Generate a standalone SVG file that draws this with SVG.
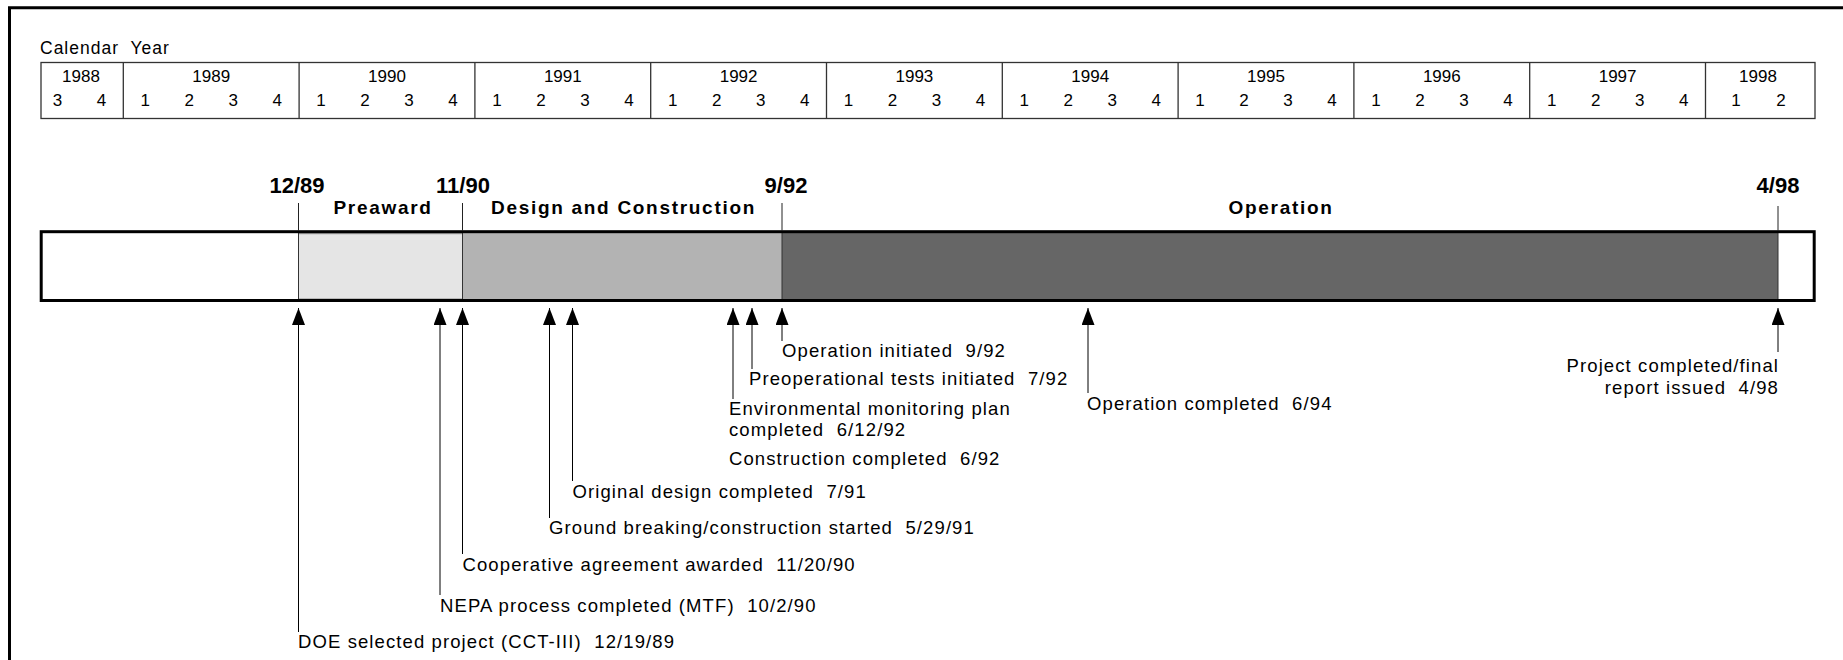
<svg xmlns="http://www.w3.org/2000/svg" width="1843" height="660" viewBox="0 0 1843 660">
  <style>
    text { font-family: 'Liberation Sans', Arial, Helvetica, sans-serif; fill: #000; }
    .cy { font-size: 17.5px; letter-spacing: 1px; }
    .yr { font-size: 17px; text-anchor: middle; }
    .lbl { font-size: 18.5px; letter-spacing: 1.1px; }
    .dt { font-size: 22px; font-weight: bold; text-anchor: middle; }
    .hd { font-size: 19px; font-weight: bold; letter-spacing: 1.7px; text-anchor: middle; }
    .grid { fill: none; stroke: #333; stroke-width: 1.3; }
    .tick { stroke: #222; stroke-width: 1; }
    .conn { stroke: #000; stroke-width: 1; fill: none; marker-start: url(#head); }
  </style>
  <defs>
    <marker id="head" viewBox="0 0 17 13" refX="17" refY="6.5" markerWidth="17" markerHeight="13" markerUnits="userSpaceOnUse" orient="auto-start-reverse">
      <path d="M0,0 L17,6.5 L0,13 z" fill="#000"/>
    </marker>
  </defs>

  <rect width="1843" height="660" fill="#fff"/>
  <!-- page frame (open at right and bottom) -->
  <path d="M9.5,660 V7.7 H1843" fill="none" stroke="#000" stroke-width="3"/>

  <!-- calendar scale -->
  <g id="calendar">
    <text class="cy" x="40" y="54" xml:space="preserve">Calendar  Year</text>
    <rect class="grid" x="41" y="62.5" width="1774" height="56"/>
    <path class="grid" d="M123.3,62.5 V118.5 M299.1,62.5 V118.5 M474.9,62.5 V118.5 M650.7,62.5 V118.5 M826.5,62.5 V118.5 M1002.3,62.5 V118.5 M1178.1,62.5 V118.5 M1353.9,62.5 V118.5 M1529.7,62.5 V118.5 M1705.5,62.5 V118.5"/>
    <g class="years">
      <text class="yr" x="81" y="82">1988</text>
      <text class="yr" x="211.2" y="82">1989</text>
      <text class="yr" x="387" y="82">1990</text>
      <text class="yr" x="562.8" y="82">1991</text>
      <text class="yr" x="738.6" y="82">1992</text>
      <text class="yr" x="914.4" y="82">1993</text>
      <text class="yr" x="1090.2" y="82">1994</text>
      <text class="yr" x="1266" y="82">1995</text>
      <text class="yr" x="1441.8" y="82">1996</text>
      <text class="yr" x="1617.6" y="82">1997</text>
      <text class="yr" x="1758" y="82">1998</text>
    </g>
    <g class="quarters">
      <text class="yr" x="57.4" y="106">3</text>
      <text class="yr" x="101.4" y="106">4</text>
      <text class="yr" x="145.3" y="106">1</text><text class="yr" x="189.3" y="106">2</text><text class="yr" x="233.3" y="106">3</text><text class="yr" x="277.3" y="106">4</text>
      <text class="yr" x="321.1" y="106">1</text><text class="yr" x="365.1" y="106">2</text><text class="yr" x="409.1" y="106">3</text><text class="yr" x="453.1" y="106">4</text>
      <text class="yr" x="496.9" y="106">1</text><text class="yr" x="540.9" y="106">2</text><text class="yr" x="584.9" y="106">3</text><text class="yr" x="628.9" y="106">4</text>
      <text class="yr" x="672.7" y="106">1</text><text class="yr" x="716.7" y="106">2</text><text class="yr" x="760.7" y="106">3</text><text class="yr" x="804.7" y="106">4</text>
      <text class="yr" x="848.5" y="106">1</text><text class="yr" x="892.5" y="106">2</text><text class="yr" x="936.5" y="106">3</text><text class="yr" x="980.5" y="106">4</text>
      <text class="yr" x="1024.3" y="106">1</text><text class="yr" x="1068.3" y="106">2</text><text class="yr" x="1112.3" y="106">3</text><text class="yr" x="1156.3" y="106">4</text>
      <text class="yr" x="1200.1" y="106">1</text><text class="yr" x="1244.1" y="106">2</text><text class="yr" x="1288.1" y="106">3</text><text class="yr" x="1332.1" y="106">4</text>
      <text class="yr" x="1375.9" y="106">1</text><text class="yr" x="1419.9" y="106">2</text><text class="yr" x="1463.9" y="106">3</text><text class="yr" x="1507.9" y="106">4</text>
      <text class="yr" x="1551.7" y="106">1</text><text class="yr" x="1595.7" y="106">2</text><text class="yr" x="1639.7" y="106">3</text><text class="yr" x="1683.7" y="106">4</text>
      <text class="yr" x="1736" y="106">1</text><text class="yr" x="1781" y="106">2</text>
    </g>
  </g>

  <!-- project phase bar -->
  <g id="phase-bar">
    <rect x="41.2" y="231.7" width="1773" height="68.8" fill="#fff"/>
    <rect id="preaward" x="298.5" y="233.7" width="164" height="65.3" fill="#e5e5e5" stroke="#8a8a8a" stroke-width="1"/>
    <rect id="design-construction" x="462.5" y="233" width="319.5" height="66.3" fill="#b3b3b3"/>
    <rect id="operation" x="782" y="233" width="996" height="66.3" fill="#666"/>
    <path d="M298.5,232 V300 M462.5,232 V300 M782,232 V300 M1778,232 V300" stroke="#333" stroke-width="1"/>
    <rect x="41.2" y="231.7" width="1773" height="68.8" fill="none" stroke="#000" stroke-width="3"/>
  </g>

  <!-- phase boundaries and titles -->
  <g id="phase-marks">
    <path class="tick" d="M298.5,203 V231 M462.5,203 V231 M782,203 V231 M1778,206 V231"/>
    <text class="dt" x="297" y="193">12/89</text>
    <text class="dt" x="463" y="193">11/90</text>
    <text class="dt" x="786" y="193">9/92</text>
    <text class="dt" x="1778" y="193">4/98</text>
    <text class="hd" x="383" y="214">Preaward</text>
    <text class="hd" x="623.5" y="214">Design and Construction</text>
    <text class="hd" x="1281" y="214">Operation</text>
  </g>

  <!-- milestone pointers -->
  <g id="connectors">
    <path class="conn" d="M298.5,308 V632"/>
    <path class="conn" d="M440,308 V595"/>
    <path class="conn" d="M462.5,308 V554"/>
    <path class="conn" d="M549.5,308 V518"/>
    <path class="conn" d="M572.5,308 V481"/>
    <path class="conn" d="M733,308 V399"/>
    <path class="conn" d="M752,308 V369"/>
    <path class="conn" d="M782,308 V341"/>
    <path class="conn" d="M1088,308 V393"/>
    <path class="conn" d="M1778,308 V352"/>
  </g>

  <!-- milestone labels -->
  <g id="m-doe-selected"><text class="lbl" x="298" y="648" xml:space="preserve">DOE selected project (CCT-III)  12/19/89</text></g>
  <g id="m-nepa"><text class="lbl" x="440" y="611.5" xml:space="preserve">NEPA process completed (MTF)  10/2/90</text></g>
  <g id="m-coop-agreement"><text class="lbl" x="462.5" y="570.5" xml:space="preserve">Cooperative agreement awarded  11/20/90</text></g>
  <g id="m-ground-breaking"><text class="lbl" x="549" y="534" xml:space="preserve">Ground breaking/construction started  5/29/91</text></g>
  <g id="m-original-design"><text class="lbl" x="572.5" y="497.5" xml:space="preserve">Original design completed  7/91</text></g>
  <g id="m-construction-completed"><text class="lbl" x="729" y="465" xml:space="preserve">Construction completed  6/92</text></g>
  <g id="m-env-monitoring">
    <text class="lbl" x="729" y="415" xml:space="preserve">Environmental monitoring plan</text>
    <text class="lbl" x="729" y="436" xml:space="preserve">completed  6/12/92</text>
  </g>
  <g id="m-preop-tests"><text class="lbl" x="749" y="385" xml:space="preserve">Preoperational tests initiated  7/92</text></g>
  <g id="m-operation-initiated"><text class="lbl" x="782" y="357" xml:space="preserve">Operation initiated  9/92</text></g>
  <g id="m-operation-completed"><text class="lbl" x="1087" y="409.5" xml:space="preserve">Operation completed  6/94</text></g>
  <g id="m-project-completed">
    <text class="lbl" x="1779" y="371.5" text-anchor="end" xml:space="preserve">Project completed/final</text>
    <text class="lbl" x="1779" y="394" text-anchor="end" xml:space="preserve">report issued  4/98</text>
  </g>
</svg>
